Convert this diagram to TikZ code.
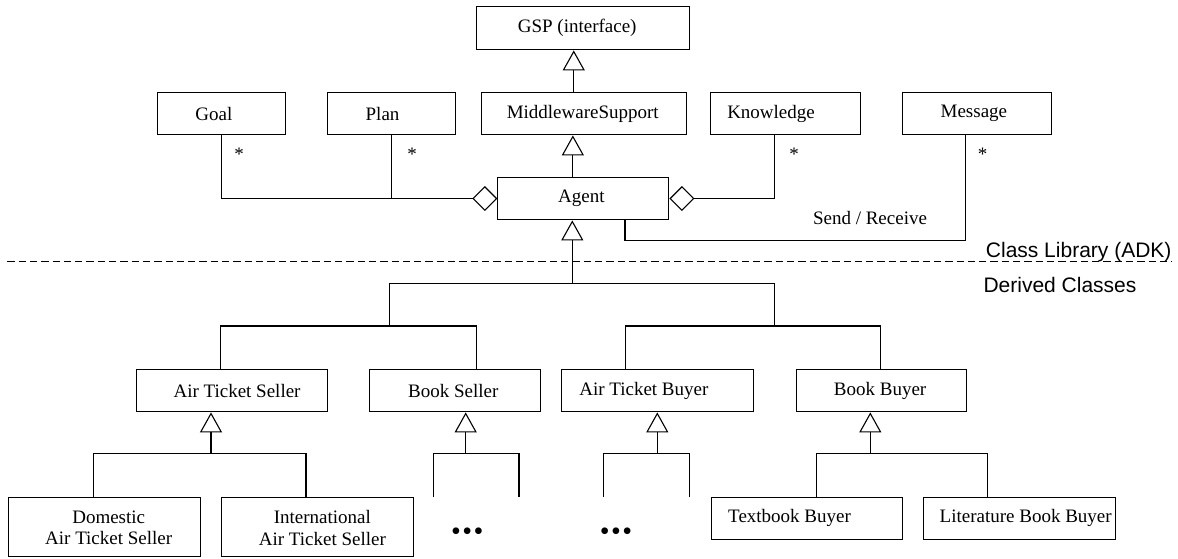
\documentclass[tikz,border=0pt]{standalone}
\usepackage{fontspec}
\setmainfont{Liberation Serif}
\newfontfamily\sansf{Liberation Sans}
\usetikzlibrary{arrows.meta,calc}
\begin{document}
\begin{tikzpicture}[x=1pt,y=-1pt, font=\fontsize{19}{21.7}\selectfont, line width=1.1pt,
  cls/.style={draw, rectangle, anchor=north west, inner sep=0pt, minimum height=42.6pt},
  inh/.style={-{Triangle[open,length=20pt,width=22pt]}},
  agg/.style={-{Diamond[open,length=25pt,width=25pt]}},
  lbl/.style={font=\fontsize{19}{21.7}\selectfont, align=center},
  side/.style={font=\sansf\fontsize{21}{24}\selectfont, inner sep=0pt},
  mult/.style={inner sep=0pt},
  dots/.style={inner sep=0pt, font=\fontsize{28}{30}\selectfont},
  sep/.style={dash pattern=on 7.3pt off 4pt, line width=1.3pt}]
\useasboundingbox (0,0) rectangle (1178,559);

% ---- class boxes ----
\node[cls, minimum width=213.3pt, minimum height=43.3pt, label={[lbl,xshift=-6pt]center:GSP (interface)}] (GSP) at (476,6) {};
\node[cls, minimum width=128.3pt, label={[lbl,xshift=-7.5pt]center:Goal}] (Goal) at (156.7,91.7) {};
\node[cls, minimum width=128pt, label={[lbl,xshift=-9pt]center:Plan}] (Plan) at (327,91.7) {};
\node[cls, minimum width=205pt, label={[lbl,xshift=-1pt]center:MiddlewareSupport}] (MS) at (480.7,91.7) {};
\node[cls, minimum width=150pt, label={[lbl,xshift=-14.5pt]center:Knowledge}] (Know) at (710,91.7) {};
\node[cls, minimum width=149.3pt, label={[lbl,xshift=-3pt]center:Message}] (Msg) at (901.7,91.7) {};
\node[cls, minimum width=171pt, label={[lbl,xshift=-2pt]center:Agent}] (Agent) at (497.3,176.7) {};

\node[cls, minimum width=191.6pt, label={[lbl,xshift=5pt]center:Air Ticket Seller}] (ATS) at (135.7,368.7) {};
\node[cls, minimum width=171pt, label={[lbl,xshift=-2pt]center:Book Seller}] (BS) at (369.3,368.7) {};
\node[cls, minimum width=192pt, label={[lbl,xshift=-14pt]center:Air Ticket Buyer}] (ATB) at (561.3,368.7) {};
\node[cls, minimum width=170.3pt, label={[lbl,xshift=-1.3pt]center:Book Buyer}] (BB) at (795.7,368.7) {};

\node[cls, minimum width=191.7pt, minimum height=59.3pt, label={[lbl,xshift=4pt,yshift=-1pt]center:{Domestic\\Air Ticket Seller}}] (Dom) at (8.3,496.7) {};
\node[cls, minimum width=191.7pt, minimum height=59.3pt, label={[lbl,xshift=5pt,yshift=-1pt]center:{International\\Air Ticket Seller}}] (Intl) at (221,496.7) {};
\node[cls, minimum width=191.6pt, minimum height=42.3pt, label={[lbl,xshift=-17.5pt]center:Textbook Buyer}] (TB) at (710.7,496.7) {};
\node[cls, minimum width=191.7pt, minimum height=42.3pt, label={[lbl,xshift=6pt]center:Literature Book Buyer}] (LBB) at (923.3,496.7) {};

% ---- inheritance in the library ----
\draw[inh] ([xshift=-10pt]MS.north) -- ([xshift=-10pt]MS.north |- GSP.south);
\draw[inh] ([xshift=-10.5pt]Agent.north) -- ([xshift=-10.5pt]Agent.north |- MS.south);

% ---- aggregations ----
\draw[agg] (Goal.south) |- (Agent.west);
\draw (Plan.south) -- (Plan.south |- Agent.west);
\draw[agg] ([xshift=-10.7pt]Know.south) |- (Agent.east);

% ---- send / receive ----
\coordinate (srL) at (625,240.5);
\coordinate (srR) at (965.7,240.5);
\draw (Agent.south -| srL) -- (srL) -- (srR) -- (Msg.south -| srR);

% ---- multiplicities and labels ----
\node[mult] (m1) at (239,154.5) {*};
\node[mult] (m2) at (412,154.5) {*};
\node[mult] (m3) at (794,154.5) {*};
\node[mult] (m4) at (982.7,154.2) {*};
\node[inner sep=0pt] (sr) at (870,218) {Send / Receive};
\node[side, anchor=east] (cl) at (1172,252) {Class Library (ADK)};
\node[side, anchor=west] (dc) at (983,285) {Derived Classes};

% ---- separator ----
\draw[sep] (7.3,261.7) -- (1172,261.7);

% ---- derived tree from Agent ----
\coordinate (j0) at (572.3,283.3);
\coordinate (jL) at (389.3,283.3);
\coordinate (jR) at (774.3,283.3);
\coordinate (a1) at (220.7,326);
\coordinate (a2) at (476.7,326);
\coordinate (b1) at (625.7,326);
\coordinate (b2) at (880.7,326);
\draw[inh] (j0) -- (j0 |- Agent.south);
\draw (jL |- a1) -- (jL) -- (jR) -- (jR |- b1);
\draw (ATS.north -| a1) -- (a1) -- (a2) -- (BS.north -| a2);
\draw (ATB.north -| b1) -- (b1) -- (b2) -- (BB.north -| b2);

% ---- Air Ticket Seller subtree ----
\coordinate (c0) at (211,453.7);
\coordinate (c1) at (93.3,453.7);
\coordinate (c2) at (306,453.7);
\draw[inh] (c0) -- (c0 |- ATS.south);
\draw (Dom.north -| c1) -- (c1) -- (c2) -- (Intl.north -| c2);

% ---- Book Seller subtree ----
\coordinate (d0) at (465.7,453.7);
\coordinate (d1) at (433.3,453.7);
\coordinate (d2) at (519,453.7);
\coordinate (d1e) at (433.3,496.7);
\coordinate (d2e) at (519,496.7);
\draw[inh] (d0) -- (d0 |- BS.south);
\draw (d1e) -- (d1) -- (d2) -- (d2e);

% ---- Air Ticket Buyer subtree ----
\coordinate (e0) at (657.3,453.7);
\coordinate (e1) at (603.7,453.7);
\coordinate (e2) at (689.3,453.7);
\coordinate (e1e) at (603.7,496.7);
\coordinate (e2e) at (689.3,496.7);
\draw[inh] (e0) -- (e0 |- ATB.south);
\draw (e1e) -- (e1) -- (e2) -- (e2e);

% ---- Book Buyer subtree ----
\coordinate (f0) at (870.3,453.7);
\coordinate (f1) at (816.7,453.7);
\coordinate (f2) at (987.3,453.7);
\draw[inh] (f0) -- (f0 |- BB.south);
\draw (TB.north -| f1) -- (f1) -- (f2) -- (LBB.north -| f2);

% ---- ellipses ----
\node[dots] (dots1) at (467.3,534.3) {•\kern1.4pt•\kern1.4pt•};
\node[dots] (dots2) at (616,534.3) {•\kern1.4pt•\kern1.4pt•};
\end{tikzpicture}
\end{document}
